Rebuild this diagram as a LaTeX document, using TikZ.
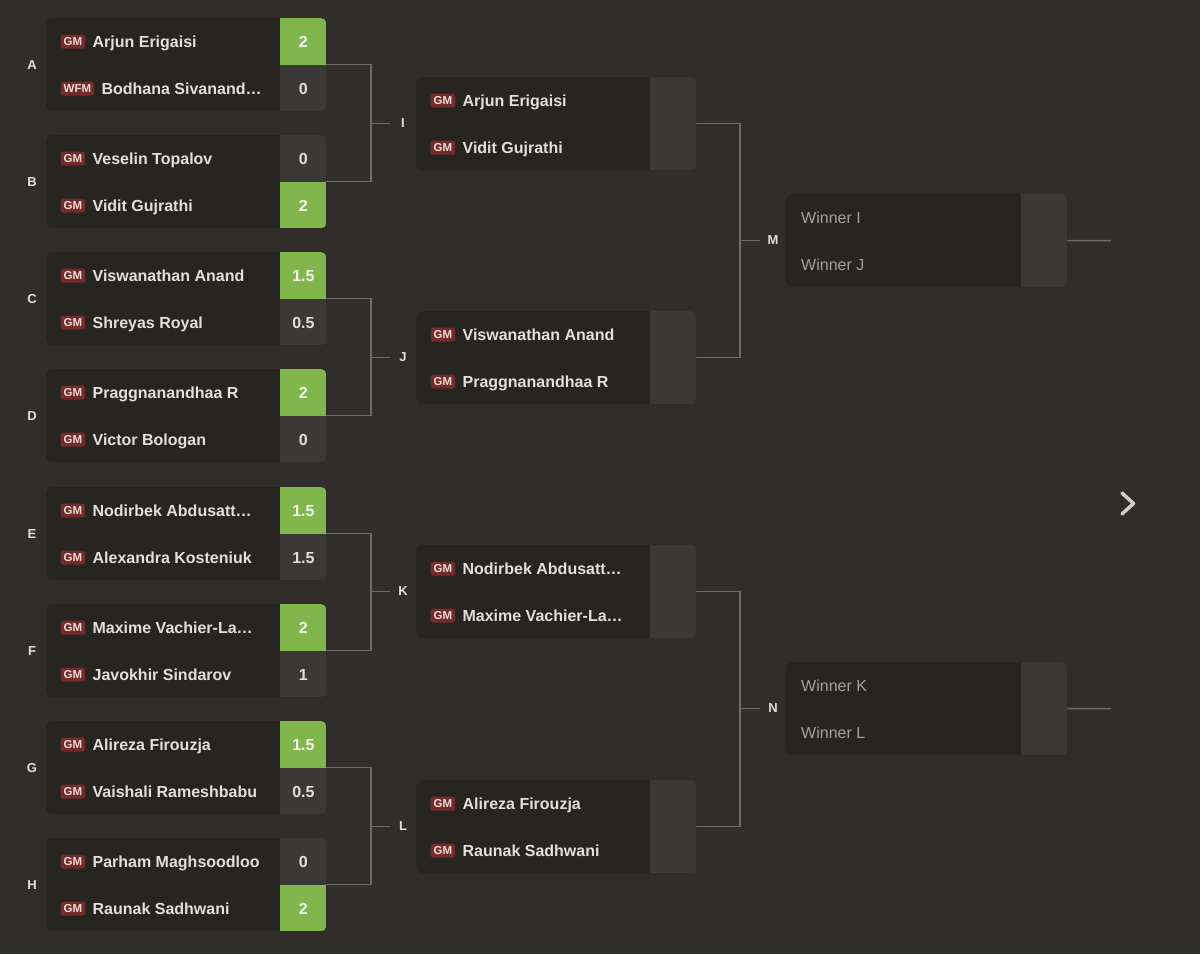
\documentclass[tikz,border=0pt]{standalone}
\usepackage{fontspec}
\setmainfont{Liberation Sans}
\definecolor{bg}{HTML}{302E2B}
\definecolor{cardc}{HTML}{262522}
\definecolor{cellc}{HTML}{3A3937}
\definecolor{winc}{HTML}{81B64C}
\definecolor{badgec}{HTML}{742C2A}
\definecolor{badgetxt}{HTML}{EEDAD8}
\definecolor{txt}{HTML}{E2E0DD}
\definecolor{wtxt}{HTML}{F6F8F0}
\definecolor{linec}{HTML}{6E6C69}
\definecolor{tbdtxt}{HTML}{A3A19E}
\definecolor{chev}{HTML}{D0CFCC}
\tikzset{
  card/.style={fill=cardc, rounded corners=5.5pt, minimum width=280pt, minimum height=93pt, inner sep=0pt, draw=none},
  badge/.style={fill=badgec, text=badgetxt, rounded corners=2.5pt, font=\fontsize{11.5}{12}\selectfont\bfseries, inner xsep=3pt, inner ysep=0pt, minimum height=14pt, anchor=west},
  pname/.style={text=txt, font=\fontsize{16}{18}\selectfont\bfseries, anchor=base west, inner sep=0pt},
  tbd/.style={text=tbdtxt, font=\fontsize{16}{18}\selectfont, anchor=base west, inner sep=0pt},
  score/.style={text=txt, font=\fontsize{16}{18}\selectfont\bfseries, inner sep=0pt, anchor=base},
  wscore/.style={score, text=wtxt},
  rlabel/.style={text=txt, font=\fontsize{13}{14}\selectfont\bfseries, inner sep=0pt},
  conn/.style={draw=linec, line width=1.5pt},
}
% #1 name, #2 x, #3 y top, #4 width, #5 top cell colour, #6 bottom cell colour
\newcommand\mcard[6]{%
  \node[card, minimum width=#4, anchor=north west] (#1) at (#2,#3) {};
  \begin{scope}
    \clip[rounded corners=5.5pt] (#1.north west) rectangle (#1.south east);
    \fill[#5] ([xshift=-46pt]#1.north east) rectangle (#1.east);
    \fill[#6] ([xshift=-46pt]#1.east) rectangle (#1.south east);
  \end{scope}}
% #1 card, #2 row id, #3 y offset of row centre, #4 badge, #5 name, #6 score, #7 score style
\newcommand\plyr[7]{%
  \node[badge] (#1b#2) at ([shift={(14.5pt,-#3pt)}]#1.north west) {#4};
  \node[pname] (#1n#2) at ([shift={(7pt,-5.8pt)}]#1b#2.east) {#5};
  \node[#7] (#1s#2) at ([shift={(-23pt,-#3pt-5.8pt)}]#1.north east) {#6};}
\newcommand\twoplyr[9]{%
  \plyr{#1}{1}{23.7}{#2}{#3}{#4}{#5}%
  \plyr{#1}{2}{70.7}{#6}{#7}{#8}{#9}}
\begin{document}
\begin{tikzpicture}[x=1pt,y=-1pt]
\fill[bg] (0,0) rectangle (1200,954);
\useasboundingbox (0,0) rectangle (1200,954);

% ---- round 1
\mcard{mA}{46}{18}{280pt}{winc}{cellc}
\twoplyr{mA}{GM}{Arjun Erigaisi}{2}{wscore}{WFM}{Bodhana Sivanand…}{0}{score}
\mcard{mB}{46}{135}{280pt}{cellc}{winc}
\twoplyr{mB}{GM}{Veselin Topalov}{0}{score}{GM}{Vidit Gujrathi}{2}{wscore}
\mcard{mC}{46}{252}{280pt}{winc}{cellc}
\twoplyr{mC}{GM}{Viswanathan Anand}{1.5}{wscore}{GM}{Shreyas Royal}{0.5}{score}
\mcard{mD}{46}{369}{280pt}{winc}{cellc}
\twoplyr{mD}{GM}{Praggnanandhaa R}{2}{wscore}{GM}{Victor Bologan}{0}{score}
\mcard{mE}{46}{487}{280pt}{winc}{cellc}
\twoplyr{mE}{GM}{Nodirbek Abdusatt…}{1.5}{wscore}{GM}{Alexandra Kosteniuk}{1.5}{score}
\mcard{mF}{46}{604}{280pt}{winc}{cellc}
\twoplyr{mF}{GM}{Maxime Vachier-La…}{2}{wscore}{GM}{Javokhir Sindarov}{1}{score}
\mcard{mG}{46}{721}{280pt}{winc}{cellc}
\twoplyr{mG}{GM}{Alireza Firouzja}{1.5}{wscore}{GM}{Vaishali Rameshbabu}{0.5}{score}
\mcard{mH}{46}{838}{280pt}{cellc}{winc}
\twoplyr{mH}{GM}{Parham Maghsoodloo}{0}{score}{GM}{Raunak Sadhwani}{2}{wscore}

% ---- round 2
\mcard{mI}{416}{77}{280pt}{cellc}{cellc}
\twoplyr{mI}{GM}{Arjun Erigaisi}{}{score}{GM}{Vidit Gujrathi}{}{score}
\mcard{mJ}{416}{311}{280pt}{cellc}{cellc}
\twoplyr{mJ}{GM}{Viswanathan Anand}{}{score}{GM}{Praggnanandhaa R}{}{score}
\mcard{mK}{416}{545}{280pt}{cellc}{cellc}
\twoplyr{mK}{GM}{Nodirbek Abdusatt…}{}{score}{GM}{Maxime Vachier-La…}{}{score}
\mcard{mL}{416}{780}{280pt}{cellc}{cellc}
\twoplyr{mL}{GM}{Alireza Firouzja}{}{score}{GM}{Raunak Sadhwani}{}{score}

% ---- round 3
\mcard{mM}{786}{194}{281pt}{cellc}{cellc}
\node[tbd] (mMn1) at ([shift={(15pt,-29.5pt)}]mM.north west) {Winner I};
\node[tbd] (mMn2) at ([shift={(15pt,-76.5pt)}]mM.north west) {Winner J};
\mcard{mN}{786}{662}{281pt}{cellc}{cellc}
\node[tbd] (mNn1) at ([shift={(15pt,-29.5pt)}]mN.north west) {Winner K};
\node[tbd] (mNn2) at ([shift={(15pt,-76.5pt)}]mN.north west) {Winner L};

% ---- match labels
\foreach \l/\c in {A/mA,B/mB,C/mC,D/mD,E/mE,F/mF,G/mG,H/mH}
  \node[rlabel] (l\l) at ([xshift=-14pt]\c.west) {\l};
\node[rlabel] (lI) at (403,123.5) {I};
\node[rlabel] (lJ) at (403,357.5) {J};
\node[rlabel] (lK) at (403,591.5) {K};
\node[rlabel] (lL) at (403,826.5) {L};
\node[rlabel] (lM) at (773,240.5) {M};
\node[rlabel] (lN) at (773,708.5) {N};

% ---- connectors
\foreach \a/\b/\l in {mA/mB/lI, mC/mD/lJ, mE/mF/lK, mG/mH/lL}{
  \coordinate (j\l) at (371,0 |- \l);
  \draw[conn] (\a.east) -| (j\l) |- (\b.east);
  \draw[conn] (j\l) -- ([xshift=-13pt]\l.center);
}
\foreach \a/\b/\l in {mI/mJ/lM, mK/mL/lN}{
  \coordinate (j\l) at (740,0 |- \l);
  \draw[conn] (\a.east) -| (j\l) |- (\b.east);
  \draw[conn] (j\l) -- ([xshift=-13pt]\l.center);
}
\coordinate (outM) at (1111,240.5);
\coordinate (outN) at (1111,708.5);
\draw[conn] (mM.east) -- (outM);
\draw[conn] (mN.east) -- (outN);

% ---- chevron
\draw[chev, line width=3.5pt, line cap=round, line join=round] (1122,493) -- (1133.5,503.5) -- (1122,514);
\end{tikzpicture}
\end{document}
